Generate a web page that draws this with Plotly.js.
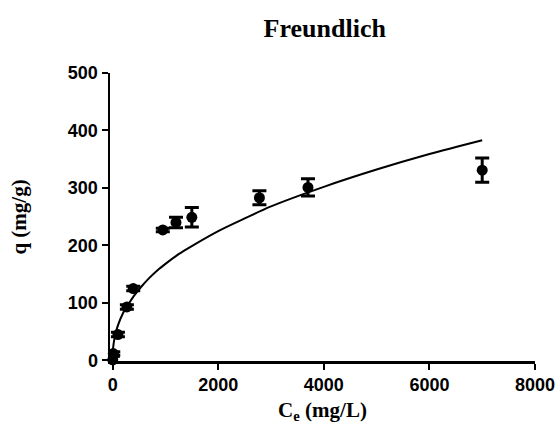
<!DOCTYPE html>
<html>
<head>
<meta charset="utf-8">
<script src="https://cdn.plot.ly/plotly-3.0.1.min.js"></script>
<style>html,body{margin:0;padding:0;background:#fff;}#chart{width:557px;height:430px;}</style>
</head>
<body>
<div id="chart"></div>
<script>
const ceData = [2, 12, 100, 270, 390, 950, 1200, 1500, 2780, 3700, 7000];
const qData  = [1, 12, 45, 93, 125, 227, 240, 249, 283, 301, 331];
const qErr   = [6, 3, 4, 4, 4, 3, 9, 17, 12, 15, 21];

// Fitted Freundlich curve
const fitCe = [0, 5, 20, 50, 100, 200, 300, 400, 550, 700, 850, 1000, 1250, 1500, 2000, 2500, 3000, 4000, 5000, 6000, 7000];
const fitQ  = [0, 17, 30, 45, 61, 83, 98, 112, 129, 144, 157, 168, 185, 199, 225, 247, 268, 302, 332, 359, 383];

const xTicks = [0, 2000, 4000, 6000, 8000];
const yTicks = [0, 100, 200, 300, 400, 500];

const tickFont = {family: 'Arial, "Liberation Sans", sans-serif', size: 18, color: '#000', weight: 'bold'};
const titleFont = {family: '"Times New Roman", "Liberation Serif", serif', size: 21, color: '#000', weight: 'bold'};

const traces = [
  {
    x: fitCe, y: fitQ, type: 'scatter', mode: 'lines',
    line: {color: '#000', width: 2, shape: 'spline', smoothing: 0.8},
    hoverinfo: 'skip', showlegend: false
  },
  {
    x: ceData, y: qData, type: 'scatter', mode: 'markers',
    marker: {color: '#000', size: 11, symbol: 'circle'},
    error_y: {type: 'data', array: qErr, visible: true, color: '#000', thickness: 3, width: 7},
    cliponaxis: false, showlegend: false
  }
];

const layout = {
  width: 557, height: 430,
  margin: {l: 110, r: 22, t: 73, b: 69},
  paper_bgcolor: '#fff', plot_bgcolor: '#fff',
  showlegend: false,
  title: {text: 'Freundlich', x: 0.583, xanchor: 'center', y: 0.935, yanchor: 'middle',
          font: {family: '"Times New Roman", "Liberation Serif", serif', size: 26, color: '#000', weight: 'bold'}},
  xaxis: {
    range: [-50, 8000], tickvals: xTicks, ticktext: xTicks.map(String),
    showgrid: false, zeroline: false, showline: true, linecolor: '#000', linewidth: 2.5,
    ticks: 'outside', ticklen: 6, tickwidth: 2, tickcolor: '#000',
    tickfont: tickFont,
    title: {text: 'C<sub>e</sub> (mg/L)', font: titleFont, standoff: 8}
  },
  yaxis: {
    range: [-1, 500], tickvals: yTicks, ticktext: yTicks.map(String),
    showgrid: false, zeroline: false, showline: true, linecolor: '#000', linewidth: 2.5,
    ticks: 'outside', ticklen: 6, tickwidth: 2, tickcolor: '#000',
    tickfont: tickFont,
    title: {text: 'q (mg/g)', font: titleFont, standoff: 36}
  }
};

Plotly.newPlot('chart', traces, layout, {displayModeBar: false, staticPlot: true});
</script>
</body>
</html>
